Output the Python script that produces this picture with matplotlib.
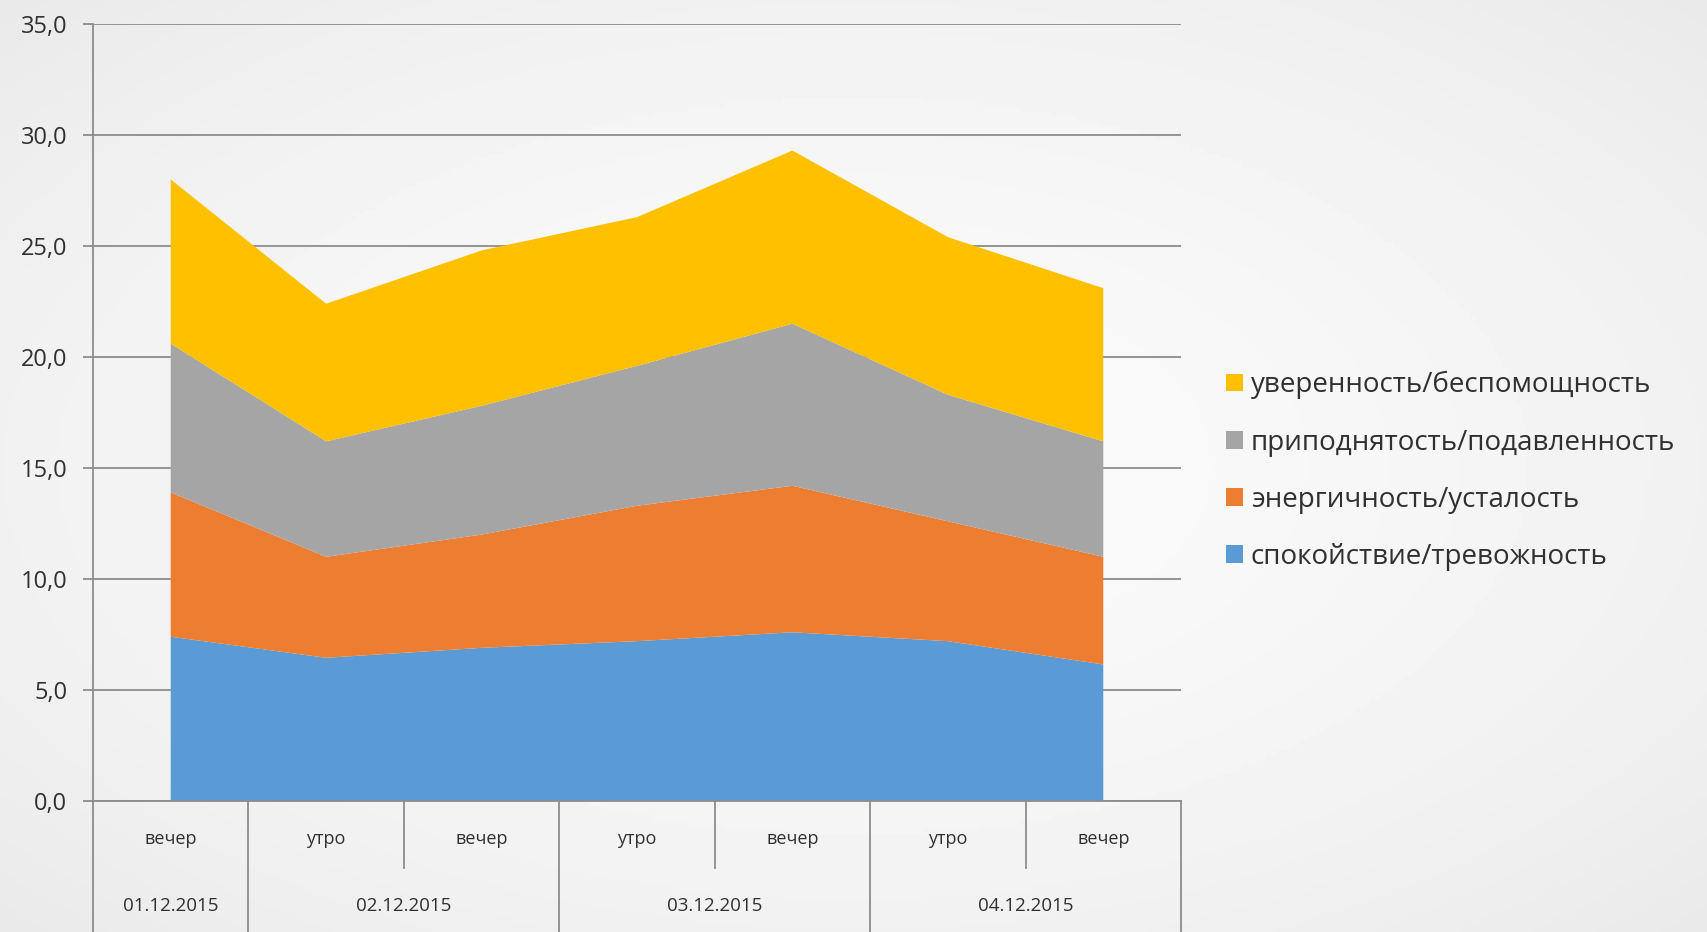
import matplotlib
matplotlib.use("Agg")
import matplotlib.pyplot as plt
import matplotlib.transforms as mtransforms
from matplotlib.patches import Patch
import numpy as np

plt.rcParams['font.family'] = ['Open Sans', 'DejaVu Sans']

# data
times = ["вечер", "утро", "вечер", "утро", "вечер", "утро", "вечер"]
dates = ["01.12.2015", "02.12.2015", "03.12.2015", "04.12.2015"]
date_groups = [1, 2, 2, 2]   # how many time slots per date
labels = ["спокойствие/тревожность", "энергичность/усталость",
          "приподнятость/подавленность", "уверенность/беспомощность"]
calm = [7.4, 6.45, 6.9, 7.2, 7.6, 7.2, 6.15]
energy = [6.5, 4.55, 5.1, 6.1, 6.6, 5.4, 4.85]
mood = [6.7, 5.2, 5.8, 6.3, 7.3, 5.7, 5.2]
confidence = [7.4, 6.2, 7.0, 6.7, 7.8, 7.1, 6.9]
colors = ["#5B9BD5", "#ED7D31", "#A5A5A5", "#FFC000"]

W, H = 1707, 932
fig = plt.figure(figsize=(W / 100, H / 100), dpi=100)

# radial grey background
bg = fig.add_axes([0, 0, 1, 1], zorder=-10)
yy, xx = np.mgrid[0:1:200j, 0:1:360j]
r = np.sqrt(((xx - 0.5) / 0.5) ** 2 + ((yy - 0.5) / 0.5) ** 2) / np.sqrt(2)
bg.imshow(0.98 - 0.065 * r ** 1.8, cmap="gray", vmin=0, vmax=1, aspect="auto",
          extent=[0, 1, 0, 1])
bg.axis("off")

x0, x1, ytop, ybot = 93, 1181, 24, 801
ax = fig.add_axes([x0 / W, 1 - ybot / H, (x1 - x0) / W, (ybot - ytop) / H])
ax.patch.set_alpha(0)

x = np.arange(len(times))
ax.stackplot(x, calm, energy, mood, confidence, colors=colors, labels=labels,
             linewidth=0)

txt_c = "#303030"
ax.set_xlim(-0.5, len(times) - 0.5)
ax.set_ylim(0, 35)
ax.set_yticks(np.arange(0, 36, 5))
ax.set_yticklabels([f"{v:.1f}".replace(".", ",") for v in np.arange(0, 36, 5)])
grid_c = "#8C8C8C"
ax.grid(axis="y", color=grid_c, linewidth=1.3)
ax.set_axisbelow(True)
ax.tick_params(axis="y", length=7.5, width=1.3, color=grid_c, pad=11,
               labelsize=17, labelcolor=txt_c)
ax.set_xticks([])
for s in ["top", "right"]:
    ax.spines[s].set_visible(False)
ax.spines["left"].set_color(grid_c)
ax.spines["left"].set_linewidth(1.3)
ax.spines["bottom"].set_color(grid_c)
ax.spines["bottom"].set_linewidth(1.3)

# two-level category table under the axis
trans = mtransforms.blended_transform_factory(ax.transData, ax.transAxes)
y_bottom = -(H - ybot) / (ybot - ytop)
y_short = -(868 - ybot) / (ybot - ytop)
y_time = -(839 - ybot) / (ybot - ytop)
y_date = -(906 - ybot) / (ybot - ytop)

edges = np.cumsum([0] + date_groups) - 0.5
for e in edges:
    ax.plot([e, e], [0, y_bottom], transform=trans, color=grid_c, lw=1.3,
            clip_on=False)
for i in range(1, len(times)):
    if (i - 0.5) not in edges:
        ax.plot([i - 0.5, i - 0.5], [0, y_short], transform=trans,
                color=grid_c, lw=1.3, clip_on=False)
for i, t in enumerate(times):
    ax.text(i, y_time, t, transform=trans, ha="center", va="center",
            fontsize=13, color=txt_c)
for j, d in enumerate(dates):
    ax.text((edges[j] + edges[j + 1]) / 2, y_date, d, transform=trans,
            ha="center", va="center", fontsize=13.5, color=txt_c)

handles = [Patch(facecolor=c, edgecolor="none") for c in colors][::-1]
fig.legend(handles, labels[::-1], loc="center left",
           bbox_to_anchor=(1226 / W, 1 - 471 / H), frameon=False,
           fontsize=20, handlelength=0.6, handleheight=0.6,
           handletextpad=0.3, labelspacing=1.05, borderpad=0, borderaxespad=0,
           labelcolor=txt_c)

fig.savefig("out.png", dpi=100)
